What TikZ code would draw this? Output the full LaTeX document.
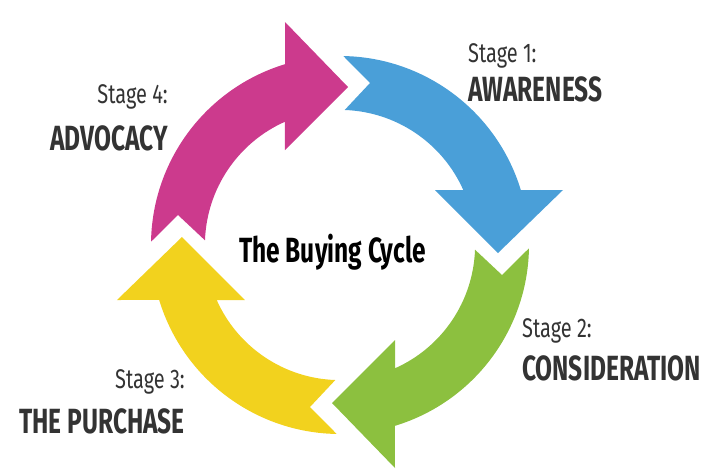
\documentclass[tikz,border=0pt]{standalone}
\usepackage{fontspec}
\usepackage{tikz}
\newfontfamily\cyclefont[FakeStretch=0.74, BoldFeatures={FakeStretch=0.70}]{Fira Sans}
\definecolor{awareblue}{HTML}{4A9FD8}
\definecolor{considgreen}{HTML}{8CC03F}
\definecolor{purchyellow}{HTML}{F2D21E}
\definecolor{advocmagenta}{HTML}{CC3A8D}
\definecolor{labelgray}{HTML}{333333}
% one curved arrow of the ring, drawn for the top-right quarter and turned by #1
\newcommand{\cyclearrow}[2]{%
  \begin{scope}[rotate=#1]
    \fill[#2] (89:189) arc[start angle=89, end angle=16.9, radius=189]
      -- (223,55) -- (158,-8) -- (95,55) -- (123.3,55)
      arc[start angle=24, end angle=88, radius=135] -- (30,162) -- cycle;
  \end{scope}}

\begin{document}
\begin{tikzpicture}[x=1pt, y=1pt,
  stagetxt/.style={font=\cyclefont\fontsize{27}{31}\selectfont, text=labelgray, inner sep=0pt},
  phasetxt/.style={font=\cyclefont\bfseries\fontsize{35}{40}\selectfont, text=labelgray, inner sep=0pt},
  cycletxt/.style={font=\cyclefont\bfseries\fontsize{35}{40}\selectfont, text=black, inner sep=0pt}
]
  \useasboundingbox (-340,-230) rectangle (380,245);

  \cyclearrow{0}{awareblue}
  \cyclearrow{-90}{considgreen}
  \cyclearrow{180}{purchyellow}
  \cyclearrow{90}{advocmagenta}

  \node[cycletxt, anchor=base] (cycle) at (-7.5,-17) {The Buying Cycle};

  \node[stagetxt, anchor=base west] (stage1) at (128,183) {Stage 1:};
  \node[phasetxt, anchor=base west] (aware) at (128,144) {AWARENESS};

  \node[stagetxt, anchor=base west] (stage2) at (182,-92) {Stage 2:};
  \node[phasetxt, anchor=base west] (consid) at (182,-135) {CONSIDERATION};

  \node[stagetxt, anchor=base east] (stage3) at (-155,-143) {Stage 3:};
  \node[phasetxt, anchor=base east] (purch) at (-155,-188) {THE PURCHASE};

  \node[stagetxt, anchor=base east] (stage4) at (-172,142) {Stage 4:};
  \node[phasetxt, anchor=base east] (advoc) at (-172,95) {ADVOCACY};
\end{tikzpicture}
\end{document}
